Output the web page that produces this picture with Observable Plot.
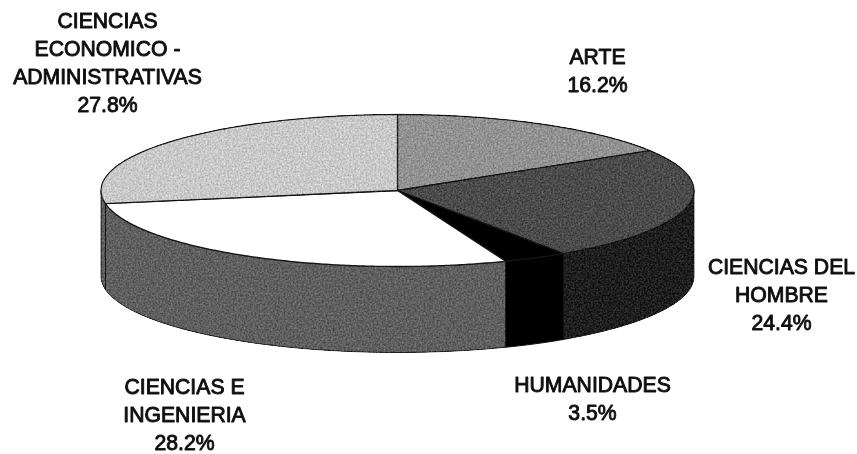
<!DOCTYPE html>
<html><head><meta charset="utf-8">
<script src="https://cdn.jsdelivr.net/npm/d3@7"></script>
<script src="https://cdn.jsdelivr.net/npm/@observablehq/plot@0.6"></script>
<style>html,body{margin:0;padding:0;background:#fff}svg{display:block}</style>
</head><body><div id="chart"></div>
<script>
const categories = ["ARTE", "CIENCIAS DEL\nHOMBRE", "HUMANIDADES", "CIENCIAS E\nINGENIERIA", "CIENCIAS\nECONOMICO -\nADMINISTRATIVAS"];
const shares = [16.2, 24.4, 3.5, 28.2, 27.8];

// Drawing styles and layout, kept apart from the data
const topColors = ["#929292", "#4b4b4b", "#000000", "#ffffff", "#c9c9c9"];
const sideColors = ["#3a3a3a", "#1e1e1e", "#000000", "#5f5f5f", "#5f5f5f"];
const labelX = [597, 781, 592, 184, 107];
const labelY = [69, 293, 397, 413, 61];
const W = 857, H = 454, cx = 397, cy = 190, rx = 296.5, ry = 76, depth = 86;

const total = d3.sum(shares);
const cum = d3.cumsum(shares);
const rad = (s) => (s / total) * 2 * Math.PI;
const pt = (a, dz = 0) => ({x: cx + rx * Math.sin(a), y: cy - ry * Math.cos(a) + dz});
const arc = (a0, a1, dz = 0) => {
  const n = Math.max(2, Math.ceil(Math.abs(a1 - a0) / 0.01));
  return d3.range(n + 1).map((i) => pt(a0 + ((a1 - a0) * i) / n, dz));
};

const slices = shares.map((s, i) => ({a0: rad(cum[i] - s), a1: rad(cum[i]), i}));

const sideMarks = slices.flatMap(({a0, a1, i}) => {
  const lo = Math.max(a0, Math.PI / 2), hi = Math.min(a1, 1.5 * Math.PI);
  if (hi <= lo) return [];
  const ring = [...arc(lo, hi), ...arc(hi, lo, depth)];
  ring.push(ring[0]);
  return [Plot.line(ring, {x: "x", y: "y", fill: sideColors[i], stroke: "#141414", strokeWidth: 1, imageFilter: i === 2 ? "url(#soft)" : "url(#grain)"})];
});
const topMarks = slices.map(({a0, a1, i}) => {
  const ring = [{x: cx, y: cy}, ...arc(a0, a1), {x: cx, y: cy}];
  return Plot.line(ring, {x: "x", y: "y", fill: topColors[i], stroke: "#141414", strokeWidth: 1.3, imageFilter: i === 3 || i === 2 ? "url(#soft)" : "url(#grain)"});
});
const labels = categories.map((c, i) => ({text: `${c}\n${shares[i].toFixed(1)}%`, x: labelX[i], y: labelY[i]}));

const svg = Plot.plot({
  width: W, height: H, margin: 0,
  x: {domain: [0, W], range: [0, W], axis: null},
  y: {domain: [0, H], range: [0, H], axis: null},
  marks: [
    ...sideMarks,
    ...topMarks,
    Plot.text(labels, {x: "x", y: "y", text: "text", fontSize: 21.2, lineHeight: 1.32, fontFamily: "Liberation Sans, Arial, sans-serif", fill: "#111", stroke: "#111", strokeWidth: 0.9, textAnchor: "middle", imageFilter: "url(#soft)"})
  ]
});
svg.style.background = "#fff";
const defs = d3.select(svg).insert("defs", ":first-child");
const grain = defs.append("filter").attr("id", "grain").attr("x", "-2%").attr("y", "-2%").attr("width", "104%").attr("height", "104%").attr("color-interpolation-filters", "sRGB");
grain.append("feTurbulence").attr("type", "fractalNoise").attr("baseFrequency", 0.55).attr("numOctaves", 2).attr("seed", 4).attr("result", "t");
grain.append("feColorMatrix").attr("in", "t").attr("type", "matrix").attr("values", "1 0 0 0 0 1 0 0 0 0 1 0 0 0 0 0 0 0 0 1").attr("result", "n");
grain.append("feComposite").attr("in", "SourceGraphic").attr("in2", "n").attr("operator", "arithmetic").attr("k1", 0).attr("k2", 1).attr("k3", 0.36).attr("k4", -0.18).attr("result", "m");
grain.append("feComposite").attr("in", "m").attr("in2", "SourceAlpha").attr("operator", "in").attr("result", "c");
grain.append("feGaussianBlur").attr("in", "c").attr("stdDeviation", 0.45);
defs.append("filter").attr("id", "soft").attr("x", "-5%").attr("y", "-5%").attr("width", "110%").attr("height", "110%")
  .append("feGaussianBlur").attr("stdDeviation", 0.45);
document.getElementById("chart").append(svg);
</script></body></html>
